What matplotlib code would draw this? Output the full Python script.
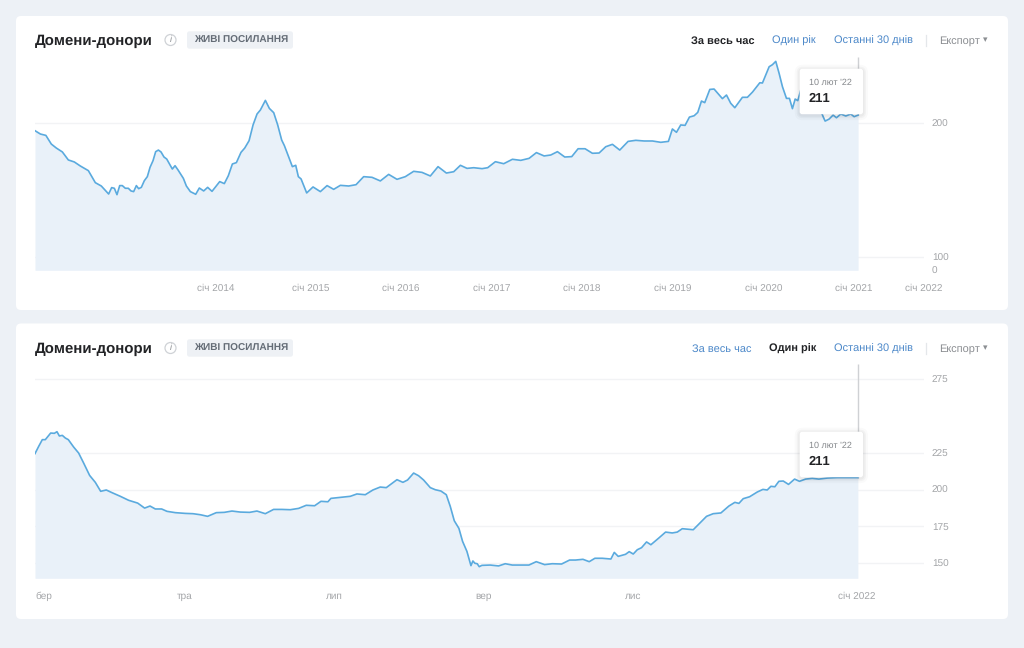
#!/usr/bin/env python3
# -*- coding: utf-8 -*-

import matplotlib
matplotlib.use('Agg')
import matplotlib.pyplot as plt
from matplotlib.patches import FancyBboxPatch, Circle

plt.rcParams['font.family'] = ['Liberation Sans', 'DejaVu Sans']
plt.rcParams['text.hinting'] = 'no_hinting'
plt.rcParams['text.hinting_factor'] = 1

# --- all-time chart: decimal year / referring domains ---
all_years = [
    2012.00, 2012.06, 2012.12, 2012.18, 2012.236, 2012.302, 2012.368, 2012.434, 2012.50, 2012.589,
    2012.666, 2012.732, 2012.813, 2012.846, 2012.876, 2012.905, 2012.935, 2012.964, 2012.997, 2013.03,
    2013.06, 2013.089, 2013.119, 2013.144, 2013.174, 2013.207, 2013.24, 2013.27, 2013.303, 2013.332,
    2013.362, 2013.391, 2013.424, 2013.454, 2013.516, 2013.546, 2013.579, 2013.638, 2013.671, 2013.715,
    2013.774, 2013.814, 2013.862, 2013.906, 2013.954, 2014.039, 2014.09, 2014.134, 2014.179, 2014.223,
    2014.274, 2014.315, 2014.363, 2014.407, 2014.451, 2014.488, 2014.543, 2014.587, 2014.635, 2014.679,
    2014.723, 2014.753, 2014.841, 2014.878, 2014.907, 2014.937, 2014.999, 2015.069, 2015.15, 2015.224,
    2015.297, 2015.371, 2015.463, 2015.544, 2015.628, 2015.72, 2015.812, 2015.904, 2015.996, 2016.088,
    2016.18, 2016.272, 2016.364, 2016.449, 2016.541, 2016.622, 2016.696, 2016.769, 2016.843, 2016.935,
    2016.997, 2017.082, 2017.174, 2017.27, 2017.362, 2017.454, 2017.535, 2017.62, 2017.693, 2017.767,
    2017.848, 2017.925, 2017.995, 2018.072, 2018.153, 2018.227, 2018.30, 2018.374, 2018.455, 2018.547,
    2018.632, 2018.724, 2018.816, 2018.908, 2018.992, 2019.036, 2019.081, 2019.128, 2019.176, 2019.224,
    2019.276, 2019.316, 2019.357, 2019.393, 2019.449, 2019.496, 2019.588, 2019.633, 2019.68, 2019.725,
    2019.809, 2019.864, 2019.92, 2020.001, 2020.03, 2020.104, 2020.14, 2020.177, 2020.214, 2020.251,
    2020.295, 2020.328, 2020.361, 2020.391, 2020.42, 2020.453, 2020.508, 2020.582, 2020.656, 2020.70,
    2020.722, 2020.766, 2020.81, 2020.847, 2020.895, 2020.95, 2021.005, 2021.042, 2021.086,
]
all_domains = [
    194.5, 192.0, 191.0, 184.5, 181.5, 178.6, 172.6, 171.1, 168.1, 164.6,
    155.6, 153.1, 147.1, 151.9, 151.4, 146.6, 153.4, 153.4, 151.4, 151.4,
    149.4, 148.9, 153.4, 151.1, 152.1, 157.1, 160.1, 167.1, 172.1, 178.8,
    180.0, 178.6, 174.8, 173.3, 165.8, 168.3, 165.1, 158.8, 153.1, 148.9,
    146.9, 151.6, 149.4, 152.1, 149.1, 156.4, 154.9, 160.8, 169.6, 170.6,
    178.3, 181.5, 187.0, 198.8, 207.0, 210.0, 217.2, 211.2, 208.0, 198.8,
    187.5, 183.3, 167.6, 168.6, 160.1, 158.4, 147.9, 152.4, 148.9, 153.4,
    150.6, 153.6, 153.1, 154.1, 160.1, 159.6, 156.9, 161.8, 158.1, 160.1,
    164.1, 163.3, 160.6, 167.6, 162.8, 163.8, 168.6, 166.3, 166.8, 166.1,
    166.8, 171.3, 169.8, 173.1, 172.3, 173.8, 178.1, 175.6, 176.3, 178.8,
    174.8, 175.1, 181.0, 181.0, 177.6, 177.8, 182.5, 184.3, 180.0, 186.5,
    187.3, 186.8, 186.8, 185.8, 186.5, 195.8, 193.3, 198.8, 198.5, 204.7,
    205.7, 208.2, 216.7, 215.5, 225.4, 225.7, 218.5, 221.2, 215.0, 211.7,
    219.5, 219.5, 223.4, 230.4, 230.2, 242.4, 243.9, 246.4, 237.4, 227.4,
    218.7, 218.7, 211.0, 218.2, 217.0, 224.9, 226.9, 221.2, 212.5, 205.0,
    201.7, 203.2, 206.2, 204.2, 207.0, 205.5, 207.0, 205.0, 206.2,
]
all_tick_pos = [2014.0, 2015.04, 2016.04, 2017.04, 2018.04, 2019.04, 2020.04, 2021.04, 2021.81]
all_tick_labels = ['січ 2014', 'січ 2015', 'січ 2016', 'січ 2017', 'січ 2018',
                   'січ 2019', 'січ 2020', 'січ 2021', 'січ 2022']
all_yticks = [90, 100, 200]  # the axis floor is about 90 but is labelled 0
all_ylabels = ['0', '100', '200']

# --- one-year chart: months since March / referring domains ---
year_months = [
    0.0, 0.049, 0.098, 0.138, 0.21, 0.259, 0.294, 0.326, 0.366, 0.406,
    0.446, 0.517, 0.584, 0.651, 0.731, 0.807, 0.879, 0.954, 1.03, 1.142,
    1.253, 1.374, 1.467, 1.539, 1.61, 1.695, 1.766, 1.878, 2.011, 2.114,
    2.212, 2.31, 2.426, 2.533, 2.636, 2.747, 2.872, 2.97, 3.082, 3.193,
    3.305, 3.416, 3.528, 3.63, 3.742, 3.827, 3.92, 3.96, 4.085, 4.219,
    4.308, 4.42, 4.522, 4.62, 4.701, 4.844, 4.924, 4.986, 5.067, 5.133,
    5.2, 5.29, 5.356, 5.432, 5.504, 5.557, 5.611, 5.673, 5.722, 5.78,
    5.834, 5.86, 5.887, 5.918, 5.945, 5.981, 6.092, 6.204, 6.293, 6.387,
    6.498, 6.61, 6.708, 6.82, 6.922, 7.047, 7.154, 7.234, 7.333, 7.417,
    7.493, 7.591, 7.707, 7.752, 7.805, 7.903, 7.952, 8.006, 8.06, 8.117,
    8.184, 8.242, 8.349, 8.439, 8.528, 8.595, 8.662, 8.809, 8.907, 8.987,
    9.076, 9.179, 9.286, 9.366, 9.42, 9.478, 9.563, 9.665, 9.741, 9.799,
    9.848, 9.901, 9.955, 10.013, 10.084, 10.165, 10.231, 10.312, 10.401, 10.49,
    10.602, 10.735, 10.892, 11.012,
]
year_domains = [
    224.5, 229.4, 234.0, 234.0, 238.5, 238.3, 239.4, 236.5, 236.9, 235.1,
    234.0, 229.0, 224.9, 218.1, 209.7, 205.0, 198.9, 199.8, 198.0, 195.5,
    192.8, 190.9, 187.5, 188.9, 186.9, 186.9, 185.3, 184.4, 183.9, 183.7,
    183.0, 181.9, 184.4, 184.6, 185.5, 184.8, 184.6, 185.5, 183.7, 186.6,
    186.6, 186.4, 187.3, 189.4, 189.1, 192.1, 191.8, 194.1, 194.8, 195.5,
    197.1, 196.6, 199.8, 201.8, 201.4, 206.8, 205.0, 206.6, 211.3, 209.5,
    206.6, 201.4, 200.0, 199.1, 196.6, 188.7, 178.9, 173.7, 164.9, 158.1,
    148.4, 151.6, 150.0, 149.7, 147.7, 148.6, 148.8, 148.2, 149.7, 148.8,
    148.8, 148.8, 151.1, 149.1, 149.7, 149.5, 152.2, 152.2, 152.7, 151.1,
    153.4, 153.4, 152.9, 157.4, 154.7, 156.1, 157.9, 156.3, 159.2, 160.6,
    164.5, 162.6, 167.2, 171.2, 170.6, 171.2, 173.5, 172.8, 177.8, 181.9,
    183.7, 184.2, 188.9, 191.4, 190.7, 193.9, 195.2, 198.4, 200.2, 199.8,
    202.3, 202.0, 205.7, 205.9, 203.6, 207.2, 205.7, 207.2, 207.7, 207.2,
    207.9, 208.2, 208.2, 208.2,
]
year_tick_pos = [0, 2, 4, 6, 8, 11]
year_tick_labels = ['бер', 'тра', 'лип', 'вер', 'лис', 'січ 2022']
year_yticks = [150, 175, 200, 225, 275]

W, H = 1024, 648
BG = '#edf1f6'
LINE = '#5aaade'
FILL = '#e9f1f9'
GRID = '#f2f3f5'
TICK = '#a3a5a8'
LINK = '#4c88c9'
DARK = '#222326'


def rect(ax, x0, y0, x1, y1, radius, **kw):
    ax.add_patch(FancyBboxPatch((x0 + radius, y0 + radius), x1 - x0 - 2 * radius, y1 - y0 - 2 * radius,
                                boxstyle=f'round,pad={radius},rounding_size={radius}', **kw))


def draw_header(ax, yc, active):
    ax.text(34.5, yc + 1.2, 'Домени-донори', fontsize=10.8, fontweight='bold', color=DARK, ha='left', va='center')
    ax.add_patch(Circle((170.5, yc), 5.5, fc='white', ec='#cfd2d6', lw=0.9))
    ax.text(170.5, yc, 'i', fontsize=6.5, style='italic', color='#8b8e92', ha='center', va='center')
    rect(ax, 187, yc - 8.7, 293, yc + 8.7, 2.5, fc='#eef1f5', ec='none')
    ax.text(194, yc + 0.8, 'ЖИВІ ПОСИЛАННЯ', fontsize=7.05, fontweight='bold', color='#646c76', ha='left', va='center')

    # links are right aligned, the bold one gets wider so the first one moves
    links = [('За весь час', 755 if active == 0 else 751.5), ('Один рік', 816), ('Останні 30 днів', 912.5)]
    for i, (txt, xr) in enumerate(links):
        on = i == active
        ax.text(xr, yc + 1, txt, fontsize=8.0, fontweight='bold' if on else 'normal',
                color=DARK if on else LINK, ha='right', va='center')
    ax.plot([926, 926], [yc - 5.5, yc + 5.5], color='#e4e7ea', lw=0.9)
    ax.text(939, yc + 1, 'Експорт', fontsize=8.0, color='#8b8e92', ha='left', va='center')
    ax.text(985.5, yc, '▾', fontsize=6.5, color='#8b8e92', ha='center', va='center',
            family=['DejaVu Sans'])


def draw_tooltip(ax, top):
    bottom = top + 45.5
    for grow, alpha in ((5, 0.02), (3, 0.03), (1.5, 0.03)):
        rect(ax, 799.7 - grow, top - grow + 1, 863 + grow, bottom + grow + 1, 3 + grow,
             fc='black', ec='none', alpha=alpha)
    rect(ax, 799.7, top, 863, bottom, 2.5, fc='white', ec='none')
    ax.text(809, top + 13.6, "10 лют '22", fontsize=6.7, color='#84878b', ha='left', va='center')
    ax.text(809, top + 30, '211', fontsize=9.6, fontweight='bold', color=DARK, ha='left', va='center')


def draw_chart(ax, xs, ys, xlim, ylim, xticks, xlabels, yticks, ylabels):
    ax.set_xlim(*xlim)
    ax.set_ylim(*ylim)
    ax.patch.set_alpha(0)
    for s in ax.spines.values():
        s.set_visible(False)
    ax.set_xticks(xticks, xlabels)
    ax.yaxis.tick_right()
    ax.set_yticks(yticks, ylabels)
    ax.tick_params(axis='both', length=0, labelsize=7.4, labelcolor=TICK)
    ax.tick_params(axis='x', pad=9.3)
    ax.tick_params(axis='y', pad=5.8)
    ax.grid(axis='y', color=GRID, lw=1, zorder=0)
    ax.set_axisbelow(True)
    ax.fill_between(xs, ys, ylim[0], color=FILL, lw=0, zorder=2)
    # cursor only runs from the last value upwards
    ax.vlines(xs[-1], ys[-1], ylim[1], color='#cfd1d4', lw=1, zorder=3)
    ax.plot(xs, ys, color=LINE, lw=1.2, zorder=4, solid_joinstyle='round')


fig = plt.figure(figsize=(W / 100, H / 100), dpi=100, facecolor=BG)


def px_axes(x0, y0, x1, y1, zorder):
    return fig.add_axes([x0 / W, 1 - y1 / H, (x1 - x0) / W, (y1 - y0) / H], zorder=zorder)


back = px_axes(0, 0, W, H, 0)
front = px_axes(0, 0, W, H, 5)
for a in (back, front):
    a.set_xlim(0, W)
    a.set_ylim(H, 0)
    a.axis('off')

rect(back, 16, 16, 1008, 310, 5, fc='white', ec='none')
rect(back, 16, 323.5, 1008, 619, 5, fc='white', ec='none')

ax1 = px_axes(35, 56.7, 923.7, 270.3, 2)
draw_chart(ax1, all_years, all_domains, (2012.0, 2021.81), (90, 249.9),
           all_tick_pos, all_tick_labels, all_yticks, all_ylabels)
ax1.get_ygridlines()[0].set_visible(False)

ax2 = px_axes(35, 364.3, 923.7, 578.3, 2)
draw_chart(ax2, year_months, year_domains, (0, 11.893), (139.8, 285.2),
           year_tick_pos, year_tick_labels, year_yticks, [str(v) for v in year_yticks])
ax2.get_xticklabels()[0].set_ha('left')

draw_header(front, 40, 0)
draw_header(front, 348, 1)
draw_tooltip(front, 68.7)
draw_tooltip(front, 431.7)

fig.savefig('out.png', dpi=100, facecolor=BG)
